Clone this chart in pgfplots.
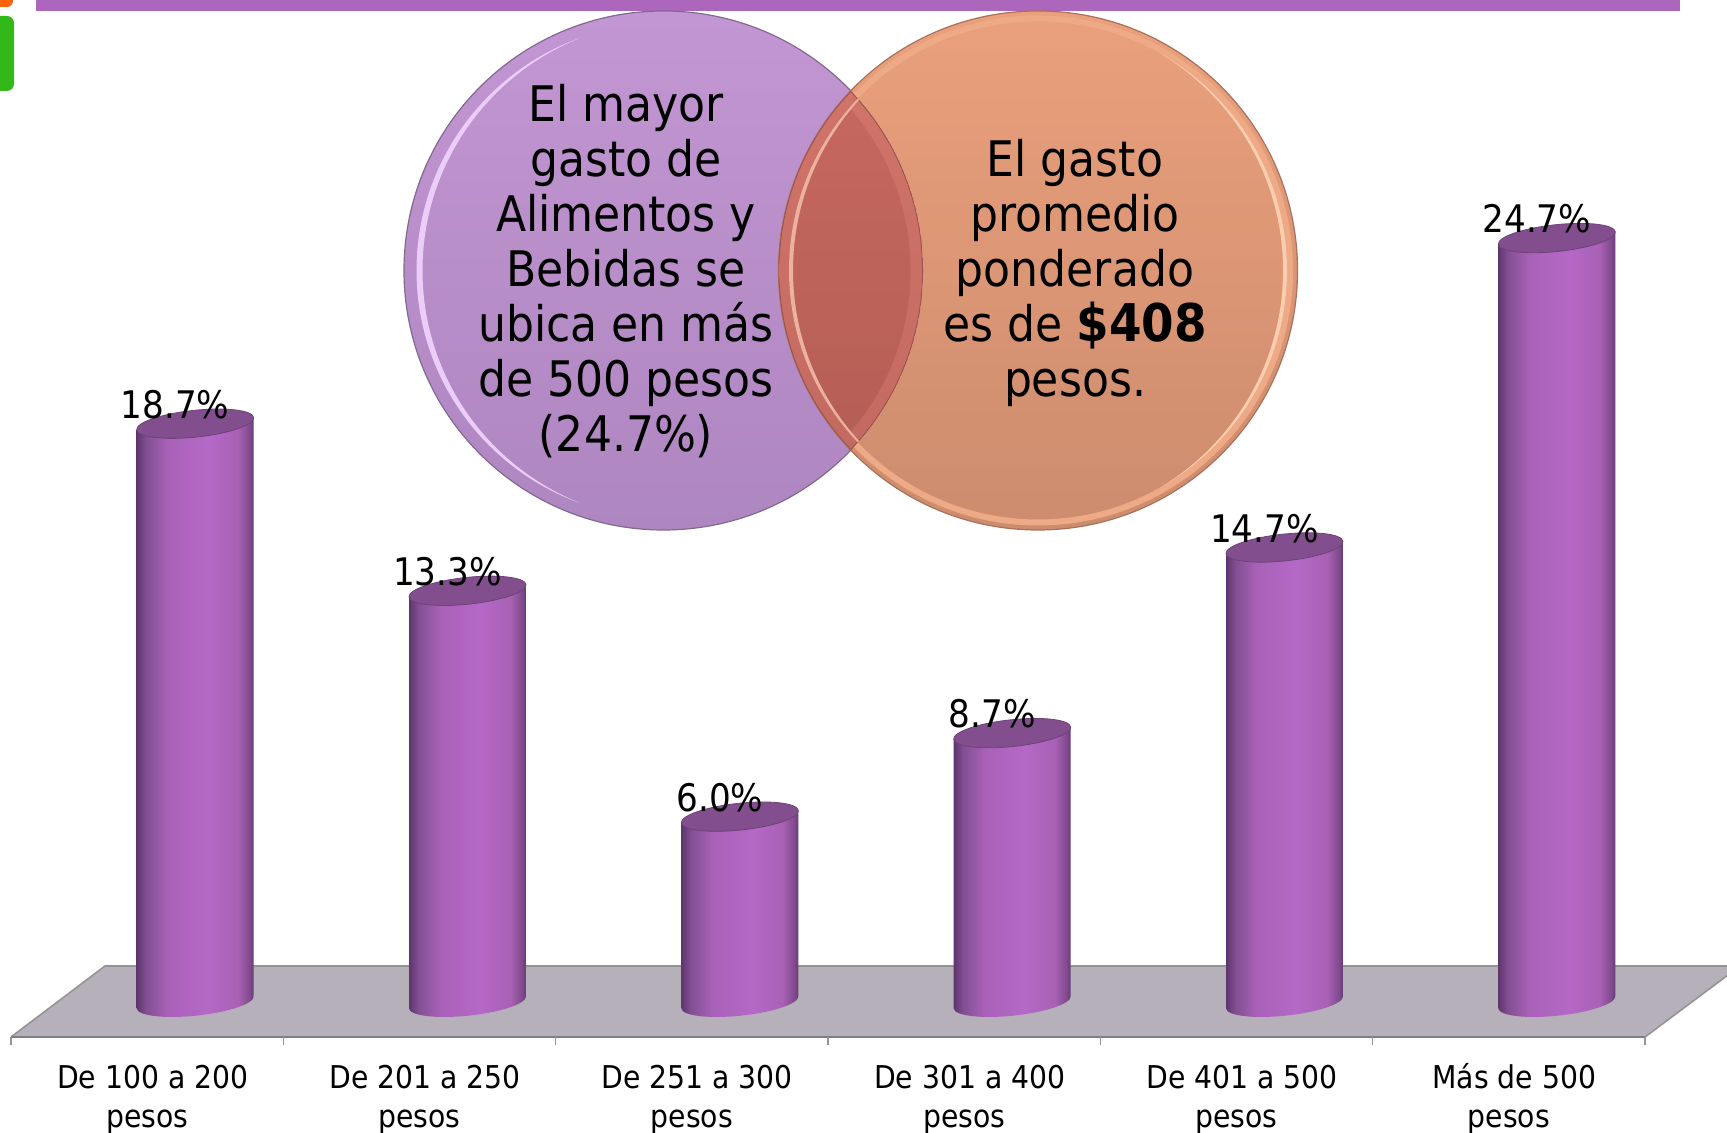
\documentclass[border=0pt]{standalone}
\usepackage{fontspec}
\setmainfont{DejaVu Sans Condensed}
\usepackage{pgfplots}
\usepackage{pgfplotstable}
\pgfplotsset{compat=1.18}
\pgfplotstableread{
i v
0 18.7
1 13.3
2 6.0
3 8.7
4 14.7
5 24.7
}\datatable
\definecolor{barP}{RGB}{176,100,196}
\definecolor{capP}{RGB}{130,78,142}
\definecolor{floorG}{RGB}{182,176,186}
\definecolor{edgeG}{RGB}{148,148,150}
\definecolor{bandP}{RGB}{172,102,188}
\definecolor{blobO}{RGB}{255,100,10}
\definecolor{blobG}{RGB}{50,185,25}
\definecolor{pTop}{RGB}{194,150,210}
\definecolor{pBot}{RGB}{174,134,192}
\definecolor{pEdge}{RGB}{130,105,145}
\definecolor{pHi}{RGB}{236,204,248}
\definecolor{oTop}{RGB}{234,160,124}
\definecolor{oBot}{RGB}{204,140,110}
\definecolor{oRing}{RGB}{238,170,134}
\definecolor{oEdge}{RGB}{170,112,90}
\definecolor{oHi}{RGB}{250,205,175}
\definecolor{xTop}{RGB}{212,118,108}
\definecolor{xBot}{RGB}{192,104,94}
\definecolor{xEdge}{RGB}{150,85,80}
\definecolor{xiTop}{RGB}{203,106,98}
\definecolor{xiBot}{RGB}{176,92,82}
\definecolor{xHi}{RGB}{236,178,160}
\pgfdeclarehorizontalshading{cyl}{100bp}{rgb(0bp)=(.37,.21,.43); rgb(25bp)=(.37,.21,.43); rgb(29bp)=(.51,.31,.57); rgb(38bp)=(.66,.38,.72); rgb(55bp)=(.71,.41,.78); rgb(68bp)=(.66,.38,.71); rgb(73bp)=(.50,.29,.55); rgb(75bp)=(.38,.22,.44); rgb(100bp)=(.38,.22,.44)}
\newdimen\hh
\newcommand\cp[3]{\pgfpointadd{\pgfpoint{#1*0.9945pt - #2*0.1045pt}{#1*0.1045pt + #2*0.9945pt}}{\pgfqpoint{0pt}{#3}}}
\def\aa{29.4}\def\bb{6.7}\def\ka{16.24}\def\kb{3.70}
\def\maa{-29.4}\def\mbb{-6.7}\def\mka{-16.24}\def\mkb{-3.70}
\pgfdeclareplotmark{cylinder}{%
  \pgfmathsetlength{\hh}{\yv*15.47pt}%
  \pgftransformxshift{24pt}%
  \pgftransformyshift{-\hh}%
  % body
  \pgfscope
  \pgfpathmoveto{\cp{\maa}{0}{0pt}}%
  \pgfpathlineto{\cp{\maa}{0}{\hh}}%
  \pgfpathlineto{\cp{\aa}{0}{\hh}}%
  \pgfpathlineto{\cp{\aa}{0}{0pt}}%
  \pgfpathcurveto{\cp{\aa}{\mkb}{0pt}}{\cp{\ka}{\mbb}{0pt}}{\cp{0}{\mbb}{0pt}}%
  \pgfpathcurveto{\cp{\mka}{\mbb}{0pt}}{\cp{\maa}{\mkb}{0pt}}{\cp{\maa}{0}{0pt}}%
  \pgfpathclose
  \pgfshadepath{cyl}{0}%
  \pgfusepath{discard}%
  \endpgfscope
  % cap
  \pgfscope
  \pgfsetfillcolor{capP}%
  \pgfsetstrokecolor{capP!85!black}%
  \pgfsetlinewidth{0.4pt}%
  \pgfpathmoveto{\cp{\maa}{0}{\hh}}%
  \pgfpathcurveto{\cp{\maa}{\kb}{\hh}}{\cp{\mka}{\bb}{\hh}}{\cp{0}{\bb}{\hh}}%
  \pgfpathcurveto{\cp{\ka}{\bb}{\hh}}{\cp{\aa}{\kb}{\hh}}{\cp{\aa}{0}{\hh}}%
  \pgfpathcurveto{\cp{\aa}{\mkb}{\hh}}{\cp{\ka}{\mbb}{\hh}}{\cp{0}{\mbb}{\hh}}%
  \pgfpathcurveto{\cp{\mka}{\mbb}{\hh}}{\cp{\maa}{\mkb}{\hh}}{\cp{\maa}{0}{\hh}}%
  \pgfpathclose
  \pgfusepath{fill,stroke}%
  \endpgfscope
}
\newcommand\tl[1]{\rule{0pt}{15pt}#1\\pesos\hspace*{5.5pt}}
\begin{document}
\begin{tikzpicture}
\path[use as bounding box] (0,0) rectangle (863.5pt,566.5pt);
\begin{scope}[x=0.5pt,y=-0.5pt,shift={(0pt,566.5pt)}]
  % page decorations
  \fill[bandP] (36,0) rectangle (1680,11);
  \fill[blobO,rounded corners=3pt] (-20,-20) rectangle (13,7);
  \fill[blobG,rounded corners=3.5pt] (-20,16) rectangle (14,91);
  % floor
  \fill[floorG] (11,1037) -- (105,966) -- (1740,966) -- (1645,1037) -- cycle;
  \draw[edgeG,line width=0.8pt] (11,1037) -- (105,966) -- (1740,966);
  \draw[edgeG,line width=0.8pt] (1740,966) -- (1645,1037);
\end{scope}
\begin{axis}[
  at={(5.5pt,48pt)},anchor=south west,
  scale only axis,width=817pt,height=518.5pt,
  xmin=-0.5,xmax=5.5,ymin=-1.121,ymax=32.395,
  clip=false,
  axis x line*=bottom,axis y line=none,
  x axis line style={draw=edgeG!85!black,line width=1.2pt},
  xtick={0,1,2,3,4,5},
  major tick length=0pt,
  xticklabels={\tl{De 100 a 200},\tl{De 201 a 250},\tl{De 251 a 300},\tl{De 301 a 400},\tl{De 401 a 500},\tl{Más de 500}},
  xticklabel style={align=center,font=\fontsize{15.7}{19.4}\selectfont,xshift=2.75pt,yshift=-7.25pt},
  extra x ticks={-0.5,0.5,1.5,2.5,3.5,4.5,5.5},
  extra x tick labels={},
  extra tick style={major tick length=4pt,tick align=outside,tick style={draw=edgeG,line width=0.7pt}},
]
\addplot[ybar,bar width=50pt,bar shift=24pt,fill=barP,draw=none,forget plot] table[x=i,y=v]{\datatable};
\addplot[scatter,only marks,mark=cylinder,
  visualization depends on=y \as \yv,
  scatter/@pre marker code/.code={\pgfscope},
  scatter/@post marker code/.code={\endpgfscope},forget plot] table[x=i,y=v]{\datatable};
\addplot[draw=none,mark=none,forget plot,
  nodes near coords={\pgfmathprintnumber[fixed,fixed zerofill,precision=1,assume math mode=true]{\pgfplotspointmeta}\%},
  every node near coord/.append style={anchor=center,text=black,inner sep=0pt,
    font=\fontsize{19}{22}\selectfont,xshift=14pt,yshift=9.6pt}] table[x=i,y=v]{\datatable};
\end{axis}
\begin{scope}[x=0.5pt,y=-0.5pt,shift={(0pt,566.5pt)}]
  % purple circle
  \shade[top color=pTop,bottom color=pBot] (663.5,270.5) circle[radius=259.5];
  \draw[pEdge,line width=0.6pt] (663.5,270.5) circle[radius=259.5];
  \begin{scope}
    \clip (400,0) rectangle (579,540);
    \fill[pHi,even odd rule] (663.5,270.5) circle[radius=247] (672.7,270.5) circle[radius=250.2];
  \end{scope}
  % orange circle
  \shade[top color=oTop,bottom color=oBot] (1038,270.5) circle[radius=259.5];
  \begin{scope}
    \clip (1038,270.5) circle[radius=259.5];
    \draw[oRing,line width=3pt] (1038,270.5) circle[radius=252];
  \end{scope}
  \draw[oEdge,line width=0.6pt] (1038,270.5) circle[radius=259.5];
  \begin{scope}
    \clip (1162.5,0) rectangle (1300,540);
    \fill[oHi,even odd rule] (1038,270.5) circle[radius=249] (1029.9,270.5) circle[radius=253.1];
  \end{scope}
  % overlap
  \begin{scope}
    \clip (663.5,270.5) circle[radius=259.5];
    \clip (1038,270.5) circle[radius=259.5];
    \shade[top color=xTop,bottom color=xBot] (780,0) rectangle (925,540);
    \draw[xEdge,line width=0.6pt] (663.5,270.5) circle[radius=259.2];
    \draw[xEdge,line width=0.6pt] (1038,270.5) circle[radius=259.2];
    \begin{scope}
      \clip (663.5,270.5) circle[radius=247];
      \clip (1038,270.5) circle[radius=249];
      \shade[top color=xiTop,bottom color=xiBot] (780,0) rectangle (925,540);
    \end{scope}
    \clip (780,0) rectangle (913.5,540);
    \fill[xHi,even odd rule] (1038,270.5) circle[radius=249] (1046.1,270.5) circle[radius=253.1];
  \end{scope}
  % text
  \node[align=center,inner sep=0pt,font=\fontsize{24.5}{27.55}\selectfont] at (626,271)
    {El mayor\\gasto de\\Alimentos y\\Bebidas se\\ubica en más\\de 500 pesos\\(24.7\%)};
  \node[align=center,inner sep=0pt,font=\fontsize{24.5}{27.55}\selectfont] at (1075,273)
    {El gasto\\promedio\\ponderado\\es de \textbf{\fontsize{26}{27.55}\selectfont\$408}\\pesos.};
\end{scope}
\end{tikzpicture}
\end{document}
